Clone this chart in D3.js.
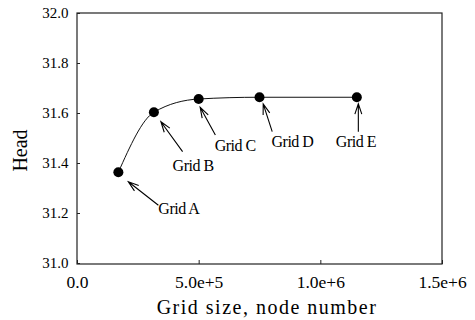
<!DOCTYPE html>
<html>
<head>
<meta charset="utf-8" />
<script src="https://d3js.org/d3.v7.min.js"></script>
<style>
  body { margin: 0; background: white; }
  text { font-family: "Liberation Serif", "Times New Roman", serif; fill: black; }
</style>
</head>
<body>
<div id="chart"></div>
<script>
// grid convergence data
var gridNames = ["Grid A", "Grid B", "Grid C", "Grid D", "Grid E"];
var nodeCounts = [170000, 316000, 500000, 750000, 1150000];
var heads = [31.363, 31.603, 31.656, 31.663, 31.663];

var xTicks = [0, 500000, 1000000, 1500000];
var xTickLabels = ["0.0", "5.0e+5", "1.0e+6", "1.5e+6"];
var yTicks = [31.0, 31.2, 31.4, 31.6, 31.8, 32.0];

var width = 475, height = 320;
var plotLeft = 77, plotRight = 442, plotTop = 13, plotBottom = 264;

var svg = d3.select("#chart").append("svg")
    .attr("width", width)
    .attr("height", height);

var x = d3.scaleLinear().domain([0, 1500000]).range([plotLeft, plotRight]);
var y = d3.scaleLinear().domain([31.0, 32.0]).range([263, plotTop]);

// frame
svg.append("rect")
    .attr("x", plotLeft).attr("y", plotTop)
    .attr("width", plotRight - plotLeft).attr("height", plotBottom - plotTop)
    .style("fill", "none")
    .style("stroke", "#222")
    .style("stroke-width", 1.2);

var xAxis = d3.axisBottom(x)
    .tickValues(xTicks)
    .tickSize(-4)
    .tickPadding(12)
    .tickFormat(function(d, i) { return xTickLabels[i]; });

var yAxis = d3.axisLeft(y)
    .tickValues(yTicks)
    .tickSize(-3)
    .tickPadding(8.5)
    .tickFormat(d3.format(".1f"));

var gx = svg.append("g")
    .attr("transform", "translate(0," + plotBottom + ")")
    .call(xAxis);
gx.select(".domain").remove();
gx.attr("font-family", null).attr("font-size", null);
gx.selectAll("text").style("font-size", "17.5px");
gx.selectAll("line").style("stroke", "#222");

var gy = svg.append("g")
    .attr("transform", "translate(" + plotLeft + ",0)")
    .call(yAxis);
gy.select(".domain").remove();
gy.attr("font-family", null).attr("font-size", null);
gy.selectAll("text").style("font-size", "15px");
gy.selectAll("line").style("stroke", "#222");

// axis titles
svg.append("text")
    .attr("x", 267)
    .attr("y", 314)
    .style("text-anchor", "middle")
    .style("font-size", "20px")
    .style("letter-spacing", "1.5px")
    .text("Grid size, node number");

svg.append("text")
    .attr("transform", "translate(26.5,150.5) rotate(-90)")
    .style("text-anchor", "middle")
    .style("font-size", "20px")
    .text("Head");

var pts = nodeCounts.map(function(d, i) {
    return { n: d, h: heads[i], name: gridNames[i] };
});

var line = d3.line()
    .x(function(d) { return x(d.n); })
    .y(function(d) { return y(d.h); })
    .curve(d3.curveMonotoneX);

svg.append("path")
    .datum(pts)
    .attr("d", line)
    .style("fill", "none")
    .style("stroke", "#111")
    .style("stroke-width", 1);

svg.selectAll(".pt")
    .data(pts)
    .enter().append("circle")
    .attr("class", "pt")
    .attr("cx", function(d) { return x(d.n); })
    .attr("cy", function(d) { return y(d.h); })
    .attr("r", 5)
    .style("fill", "black");

// annotation layout: pixel offsets from each point (arrow tip, arrow tail, label)
var notes = [
    { tip: [10, 9.5], tail: [40, 33], label: [40, 41.7] },
    { tip: [7, 9.5], tail: [28.7, 39.4], label: [18.7, 58.4] },
    { tip: [1.5, 8.3], tail: [16.7, 36], label: [16, 51.7] },
    { tip: [3.7, 6.7], tail: [12.7, 34.4], label: [12, 49.4] },
    { tip: [1.5, 6.5], tail: [1.5, 34.4], label: [-21, 49.4] }
];

var ann = svg.selectAll(".note")
    .data(pts)
    .enter().append("g")
    .attr("class", "note")
    .attr("transform", function(d) { return "translate(" + x(d.n) + "," + y(d.h) + ")"; });

ann.append("path")
    .attr("d", function(d, i) {
        var n = notes[i];
        var tx = n.tip[0], ty = n.tip[1], sx = n.tail[0], sy = n.tail[1];
        var ang = Math.atan2(sy - ty, sx - tx);
        var len = 11, spread = 0.32;
        var a1x = tx + len * Math.cos(ang + spread), a1y = ty + len * Math.sin(ang + spread);
        var a2x = tx + len * Math.cos(ang - spread), a2y = ty + len * Math.sin(ang - spread);
        return "M" + sx + "," + sy + "L" + tx + "," + ty +
               "M" + a1x + "," + a1y + "L" + tx + "," + ty + "L" + a2x + "," + a2y;
    })
    .style("fill", "none")
    .style("stroke", "black")
    .style("stroke-width", 1.1);

ann.append("text")
    .attr("x", function(d, i) { return notes[i].label[0]; })
    .attr("y", function(d, i) { return notes[i].label[1]; })
    .style("font-size", "16px")
    .style("letter-spacing", "-0.5px")
    .text(function(d) { return d.name; });
</script>
</body>
</html>
